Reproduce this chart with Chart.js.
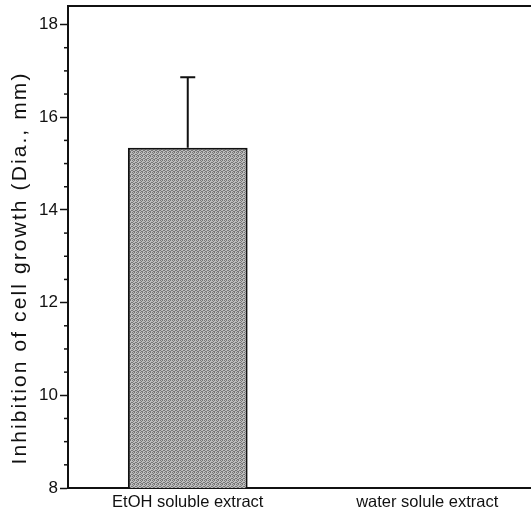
<!DOCTYPE html>
<html>
<head>
<meta charset="utf-8">
<script src="https://cdn.jsdelivr.net/npm/chart.js@4"></script>
<style>
  html, body { margin: 0; padding: 0; background: #fff; overflow: hidden; }
  #wrap { width: 560px; height: 516px; }
</style>
</head>
<body>
<div id="wrap"><canvas id="chart"></canvas></div>
<script>
// data
const categories = ["EtOH soluble extract", "water solule extract"];
const inhibition = [15.34, 0];
const errors = [1.52, 0];
const majorTicks = [8, 10, 12, 14, 16, 18];
const minorTicks = [8.5, 9, 9.5, 10.5, 11, 11.5, 12.5, 13, 13.5, 14.5, 15, 15.5, 16.5, 17, 17.5];
const yTitle = "Inhibition of cell growth (Dia., mm)";

const FONT = "'Liberation Sans', Arial, Helvetica, sans-serif";

// stippled grey fill like the scanned bar
function makePattern() {
  const c = document.createElement("canvas");
  c.width = 4;
  c.height = 4;
  const g = c.getContext("2d");
  g.fillStyle = "#bdbdbd";
  g.fillRect(0, 0, 4, 4);
  g.fillStyle = "#777";
  [[0, 0], [2, 0], [1, 1], [3, 2], [0, 2], [2, 3], [1, 3]].forEach(([x, y]) => g.fillRect(x, y, 1, 1));
  return g.createPattern(c, "repeat");
}

const framePlugin = {
  id: "frame",
  afterDraw(chart) {
    const { ctx, chartArea: a, scales } = chart;
    const y = scales.y;
    ctx.save();
    // top and right frame
    ctx.strokeStyle = "#111";
    ctx.lineWidth = 2;
    ctx.beginPath();
    ctx.moveTo(a.left, a.top);
    ctx.lineTo(a.right, a.top);
    ctx.lineTo(a.right, a.bottom);
    ctx.stroke();

    // minor ticks
    ctx.lineWidth = 1.5;
    minorTicks.forEach((v) => {
      const py = y.getPixelForValue(v);
      ctx.beginPath();
      ctx.moveTo(a.left - 4, py);
      ctx.lineTo(a.left, py);
      ctx.stroke();
    });

    // error bars (upper half)
    const meta = chart.getDatasetMeta(0);
    meta.data.forEach((bar, i) => {
      if (!errors[i]) return;
      const top = y.getPixelForValue(inhibition[i] + errors[i]);
      ctx.lineWidth = 2;
      ctx.beginPath();
      ctx.moveTo(bar.x, bar.y);
      ctx.lineTo(bar.x, top);
      ctx.moveTo(bar.x - 7.5, top);
      ctx.lineTo(bar.x + 7.5, top);
      ctx.stroke();
    });

    // y axis title
    ctx.fillStyle = "#111";
    ctx.font = "21px " + FONT;
    ctx.letterSpacing = "2.1px";
    ctx.textAlign = "center";
    ctx.textBaseline = "middle";
    ctx.translate(20, (a.top + a.bottom) / 2 + 21);
    ctx.rotate(-Math.PI / 2);
    ctx.fillText(yTitle, 0, 0);
    ctx.restore();
  },
};

new Chart(document.getElementById("chart"), {
  type: "bar",
  data: {
    labels: categories,
    datasets: [
      {
        data: inhibition,
        backgroundColor: makePattern(),
        borderColor: "#111",
        borderWidth: 2,
        borderSkipped: "bottom",
        barPercentage: 1,
        categoryPercentage: 0.5,
      },
    ],
  },
  options: {
    responsive: true,
    maintainAspectRatio: false,
    animation: false,
    events: [],
    layout: { padding: { top: 6, right: 13, left: 0, bottom: 0 } },
    plugins: { legend: { display: false }, tooltip: { enabled: false } },
    scales: {
      x: {
        grid: { display: false, drawTicks: false },
        border: { color: "#111", width: 2 },
        ticks: { color: "#111", font: { family: FONT, size: 16.5 }, padding: 5, maxRotation: 0 },
        afterFit(scale) { scale.height = 28; },
      },
      y: {
        min: 8,
        max: 18.4,
        afterBuildTicks(scale) { scale.ticks = majorTicks.map((v) => ({ value: v })); },
        grid: { drawOnChartArea: false, tickLength: 8, tickColor: "#111", tickWidth: 1.5 },
        border: { color: "#111", width: 2 },
        ticks: { color: "#111", font: { family: FONT, size: 17 }, padding: 2 },
        afterFit(scale) {
          scale.width = 68;
          scale.paddingTop = 0;
          scale.paddingBottom = 0;
        },
      },
    },
  },
  plugins: [framePlugin],
});
</script>
</body>
</html>
